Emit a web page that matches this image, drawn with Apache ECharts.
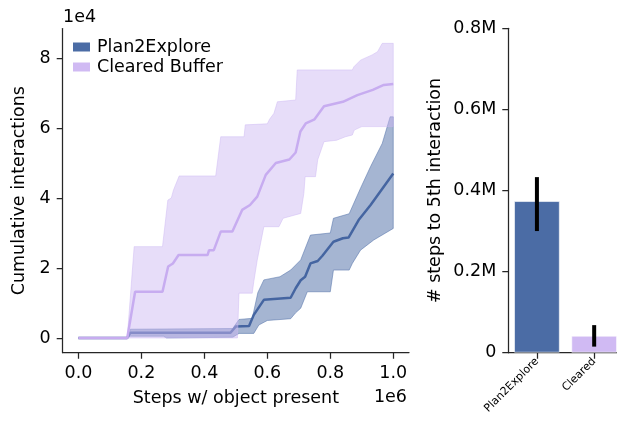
<!DOCTYPE html>
<html><head><meta charset="utf-8">
<script src="https://cdn.jsdelivr.net/npm/echarts@6/dist/echarts.min.js"></script>
<style>html,body{margin:0;padding:0;background:#fff}#c{width:617px;height:424px}</style>
</head><body><div id="c"></div>
<script>
// ---- tick labels ----
const xTicks = [0, 200000, 400000, 600000, 800000, 1000000];
const yTicks = [0, 20000, 40000, 60000, 80000];
const barTicks = [0, 200000, 400000, 600000, 800000];

// ---- left panel: cumulative interactions vs steps (mean and band) ----
const p2eMean = [[0,0],[155000,0],[165000,1500],[483000,1500],[500000,3300],[542000,3400],[557000,6600],[589000,10900],[674000,11500],[690000,14200],[706000,16500],[720000,17500],[737000,21300],[760000,22000],[775000,23500],[810000,27500],[840000,28500],[858000,28700],[890000,33700],[928000,38000],[960000,42000],[1000000,47000]];
const p2eUpper = [[0,0],[155000,0],[165000,2500],[490000,2700],[510000,5300],[552000,5600],[570000,13000],[589000,16600],[640000,17500],[674000,19400],[706000,22300],[737000,29400],[800000,30000],[810000,34200],[860000,35500],[896000,42800],[928000,49000],[965000,55600],[990000,63200],[1000000,63200]];
const p2eLower = [[0,0],[155000,0],[165000,500],[270000,500],[280000,0],[490000,200],[510000,1300],[557000,1300],[573000,3700],[600000,5000],[674000,5500],[690000,7200],[706000,8500],[727000,13200],[800000,13200],[810000,19400],[860000,19400],[870000,21300],[896000,25100],[938000,28000],[1000000,31300]];

const clrMean = [[0,0],[155000,0],[180000,13200],[267000,13200],[285000,20400],[300000,21300],[318000,23700],[410000,23700],[415000,25100],[430000,25100],[452000,30400],[489000,30400],[520000,36600],[545000,38000],[568000,40400],[595000,46600],[627000,50000],[670000,51000],[690000,53000],[705000,59000],[722000,61300],[750000,62500],[780000,66200],[840000,67500],[886000,69400],[935000,70900],[970000,72300],[1000000,72600]];
const clrUpper = [[0,0],[155000,0],[177000,26100],[267000,26100],[284000,39400],[295000,40000],[302000,42300],[320000,46300],[436000,46300],[452000,57500],[526000,57500],[530000,60900],[600000,61200],[607000,62500],[621000,64200],[632000,67500],[690000,68000],[695000,76600],[870000,76600],[875000,77500],[896000,79400],[933000,80900],[950000,81800],[965000,84200],[1000000,84200]];
const clrLower = [[0,0],[505000,0],[510000,12800],[552000,12800],[557000,16100],[568000,22300],[589000,31800],[637000,31800],[650000,34200],[706000,35600],[716000,41300],[720000,46100],[753000,46100],[760000,50900],[780000,56100],[820000,56500],[848000,57500],[870000,58000],[876000,59400],[900000,60400],[1000000,60400]];

// ---- right panel: steps to 5th interaction ----
const barCats = ['Plan2Explore', 'Cleared'];
const barVals = [374000, 42000];
const errLow = [300000, 15000];
const errHigh = [433000, 68000];

const FONT = 'DejaVu Sans';
const FS = 17.5;
const AX = '#262626';
const TXT = '#000';
const BLUE = '#4b6ca5', BLUE_LINE = '#4565a1', BLUE_FILL = 'rgba(75,108,165,0.5)';
const PURP = '#d0baf3', PURP_LINE = '#c7acf0', PURP_FILL = 'rgba(205,183,242,0.48)';
const barColors = [BLUE, PURP];

function band(name, upper, lower, fill, z) {
  return {
    type: 'custom', name, xAxisIndex: 0, yAxisIndex: 0, z, silent: true,
    data: [[0, 0]],
    renderItem: (params, api) => {
      const pts = upper.map(p => api.coord(p)).concat(lower.slice().reverse().map(p => api.coord(p)));
      return { type: 'polygon', shape: { points: pts }, style: { fill: fill, stroke: fill, lineWidth: 1 } };
    }
  };
}
const txt = { fontFamily: FONT, fontSize: FS, color: TXT };
const axLine = { show: true, onZero: false, lineStyle: { color: AX, width: 1.25 } };
const axTick = (vals) => ({ show: true, inside: false, length: 6, customValues: vals, lineStyle: { color: AX, width: 1.25 } });

const chart = echarts.init(document.getElementById('c'), null, { renderer: 'canvas' });
chart.setOption({
  animation: false,
  backgroundColor: '#fff',
  textStyle: { fontFamily: FONT },
  grid: [
    { left: 62.7, top: 28.6, right: 208, bottom: 71.3, containLabel: false, outerBoundsMode: 'none' },
    { left: 508.3, top: 28.3, right: -5.8, bottom: 71.3, containLabel: false, outerBoundsMode: 'none' }
  ],
  legend: {
    orient: 'vertical', left: 68, top: 33, itemWidth: 17, itemHeight: 9, itemGap: 2, icon: 'rect',
    data: [{ name: 'Plan2Explore', itemStyle: { color: BLUE } }, { name: 'Cleared Buffer', itemStyle: { color: PURP } }],
    textStyle: Object.assign({}, txt, { padding: [0, 0, 0, 2], lineHeight: 18 })
  },
  xAxis: [
    { type: 'value', gridIndex: 0, min: -50000, max: 1050000,
      axisLine: axLine, axisTick: axTick(xTicks), splitLine: { show: false },
      axisLabel: Object.assign({ customValues: xTicks, margin: 12, formatter: v => (v / 1e6).toFixed(1) }, txt),
      name: 'Steps w/ object present', nameLocation: 'middle', nameGap: 37, nameTextStyle: txt },
    { type: 'category', gridIndex: 1, data: barCats, boundaryGap: true,
      axisLine: axLine, axisTick: { show: true, alignWithLabel: true, length: 6, lineStyle: { color: AX, width: 1.25 } },
      axisLabel: { rotate: 45, interval: 0, fontSize: 11, fontFamily: FONT, color: TXT, margin: 7 } }
  ],
  yAxis: [
    { type: 'value', gridIndex: 0, min: -4210, max: 88410,
      axisLine: axLine, axisTick: axTick(yTicks), splitLine: { show: false },
      axisLabel: Object.assign({ customValues: yTicks, margin: 12, formatter: v => String(v / 1e4) }, txt),
      name: 'Cumulative interactions', nameLocation: 'middle', nameGap: 33, nameRotate: 90, nameTextStyle: txt },
    { type: 'value', gridIndex: 1, min: 0, max: 800000,
      axisLine: axLine, axisTick: axTick(barTicks), splitLine: { show: false },
      axisLabel: Object.assign({ customValues: barTicks, margin: 12, formatter: v => v === 0 ? '0' : (v / 1e6).toFixed(1) + 'M' }, txt),
      name: '# steps to 5th interaction', nameLocation: 'middle', nameGap: 64, nameRotate: 90, nameTextStyle: txt }
  ],
  graphic: [
    { type: 'text', left: 63, top: 8, style: { text: '1e4', font: FS + 'px "DejaVu Sans"', fill: TXT } },
    { type: 'text', right: 210, top: 388, style: { text: '1e6', font: FS + 'px "DejaVu Sans"', fill: TXT, textAlign: 'right' } }
  ],
  series: [
    band('Plan2Explore', p2eUpper, p2eLower, BLUE_FILL, 1),
    { type: 'line', name: 'Plan2Explore', xAxisIndex: 0, yAxisIndex: 0, z: 2, data: p2eMean, showSymbol: false,
      lineStyle: { color: BLUE_LINE, width: 2.5 }, itemStyle: { color: BLUE } },
    band('Cleared Buffer', clrUpper, clrLower, PURP_FILL, 3),
    { type: 'line', name: 'Cleared Buffer', xAxisIndex: 0, yAxisIndex: 0, z: 4, data: clrMean, showSymbol: false,
      lineStyle: { color: PURP_LINE, width: 2.5 }, itemStyle: { color: PURP } },
    { type: 'bar', xAxisIndex: 1, yAxisIndex: 1, barWidth: '80%',
      data: barVals.map((v, i) => ({ value: v, itemStyle: { color: barColors[i], borderColor: 'rgba(255,255,255,0.6)', borderWidth: 1 } })) },
    { type: 'custom', xAxisIndex: 1, yAxisIndex: 1, z: 5,
      data: barCats.map((c, i) => [i, errLow[i], errHigh[i]]),
      encode: { x: 0, y: [1, 2] },
      renderItem: (params, api) => {
        const lo = api.coord([api.value(0), api.value(1)]);
        const hi = api.coord([api.value(0), api.value(2)]);
        return { type: 'line', shape: { x1: lo[0], y1: lo[1], x2: hi[0], y2: hi[1] }, style: { stroke: '#000', lineWidth: 4 } };
      } }
  ]
});
</script>
</body></html>
